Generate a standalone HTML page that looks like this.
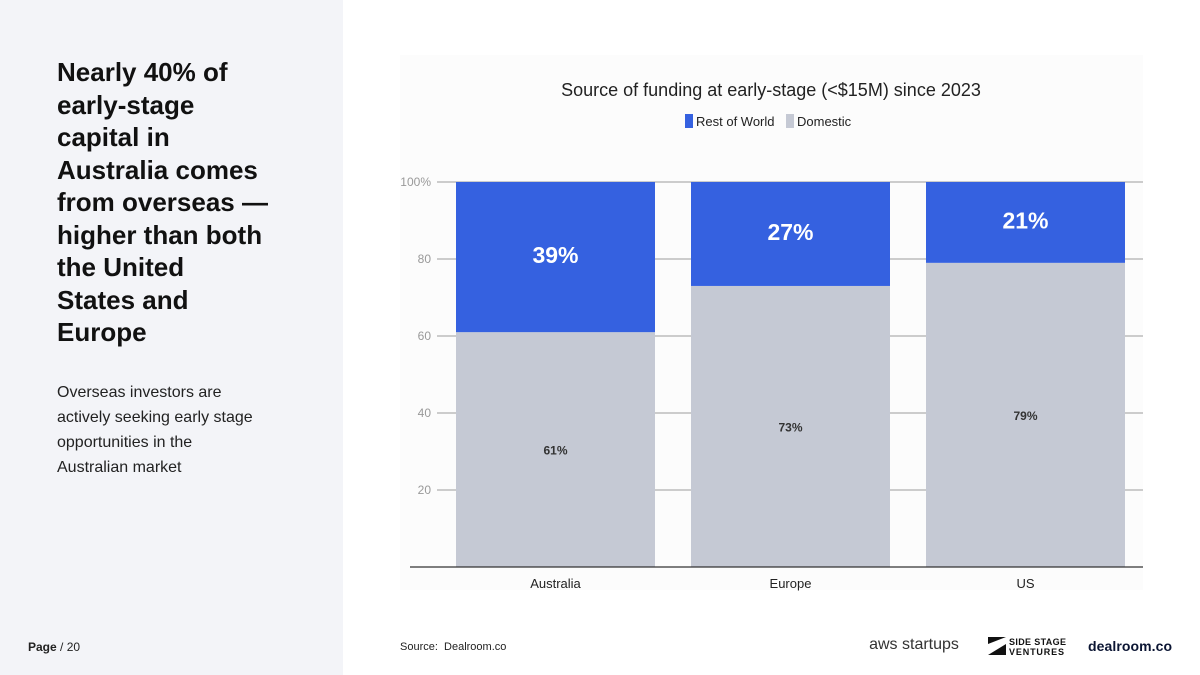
<!DOCTYPE html>
<html><head><meta charset="utf-8"><style>
body{margin:0;width:1200px;height:675px;background:#fff;font-family:"Liberation Sans",sans-serif;position:relative;overflow:hidden}
.left{position:absolute;left:0;top:0;width:343px;height:675px;background:#f3f4f8}
h1{position:absolute;left:57px;top:56px;margin:0;font-size:26px;line-height:32.5px;font-weight:bold;color:#111;white-space:nowrap}
.sub{position:absolute;left:57px;top:380px;font-size:16px;line-height:25px;color:#222;white-space:nowrap}
.page{position:absolute;left:28px;top:640px;font-size:12px;color:#222}
.src{position:absolute;left:400px;top:641px;font-size:11px;color:#222}
svg text{font-family:"Liberation Sans",sans-serif}
</style></head><body>
<div class="left"></div>
<h1>Nearly 40% of<br>early-stage<br>capital in<br>Australia comes<br>from overseas —<br>higher than both<br>the United<br>States and<br>Europe</h1>
<div class="sub">Overseas investors are<br>actively seeking early stage<br>opportunities in the<br>Australian market</div>
<div class="page"><b>Page</b> / 20</div>
<div class="src">Source:&nbsp; Dealroom.co</div>
<svg id="chart" width="1200" height="675" style="position:absolute;left:0;top:0">
<rect x="400" y="55" width="743" height="535" fill="#fcfcfc"/>
<text x="771" y="96" text-anchor="middle" font-size="18" fill="#222">Source of funding at early-stage (&lt;$15M) since 2023</text>
<rect x="685" y="114" width="8" height="14" fill="#3561e0"/>
<text x="696" y="126" font-size="13" fill="#222">Rest of World</text>
<rect x="786" y="114" width="8" height="14" fill="#c5c9d4"/>
<text x="797" y="126" font-size="13" fill="#222">Domestic</text>
<g id="grid"></g><g id="bars"></g>
<line x1="410" y1="567" x2="1143" y2="567" stroke="#333" stroke-width="1.2"/>
<text x="1088" y="651" font-size="14" font-weight="bold" fill="#0b1533" textLength="84">dealroom.co</text>
<text x="914" y="649" text-anchor="middle" font-size="16" fill="#333">aws startups</text>
<path d="M988 637h18l-18 7z M988 655h18v-11z" fill="#111"/>
<text x="1009" y="645" font-size="9" font-weight="bold" fill="#111" textLength="57">SIDE STAGE</text>
<text x="1009" y="655" font-size="9" font-weight="bold" fill="#111" textLength="55">VENTURES</text>
</svg>
<script>
const categories=["Australia","Europe","US"];
const domestic=[61,73,79];
const restOfWorld=[39,27,21];
const ticks=[20,40,60,80,100];
const NS="http://www.w3.org/2000/svg";
const y=v=>567-v*3.85;
const bx=i=>456+i*235, bw=199;
function mk(t,a,p){const e=document.createElementNS(NS,t);for(const k in a)e.setAttribute(k,a[k]);p.appendChild(e);return e;}
const g=document.getElementById('grid'),b=document.getElementById('bars');
ticks.forEach(t=>{
 const l=mk('line',{x1:437,x2:1143,y1:y(t),y2:y(t),stroke:'#bbb','stroke-width':1.5},g);
 
 
 const tx=mk('text',{x:431,y:y(t)+4,'text-anchor':'end','font-size':12,fill:'#999'},g);
 tx.textContent=t===100?'100%':t;
 
 
});
categories.forEach((c,i)=>{
 const d=mk('rect',{x:bx(i),y:y(domestic[i]),width:bw,height:y(0)-y(domestic[i]),fill:'#c5c9d4'},b);
 
 
 const top=domestic[i]+restOfWorld[i];
 const r=mk('rect',{x:bx(i),y:y(top),width:bw,height:y(domestic[i])-y(top),fill:'#3561e0'},b);
 
 
 const t1=mk('text',{x:bx(i)+bw/2,y:(y(top)+y(domestic[i]))/2+6,'text-anchor':'middle','font-size':23,'font-weight':'bold',fill:'#fff'},b);
 t1.textContent=restOfWorld[i]+'%';
 
 
 const t2=mk('text',{x:bx(i)+bw/2,y:(y(domestic[i])+y(0))/2+5,'text-anchor':'middle','font-size':12,'font-weight':'bold',fill:'#333'},b);
 t2.textContent=domestic[i]+'%';
 
 
 const cl=mk('text',{x:bx(i)+bw/2,y:588,'text-anchor':'middle','font-size':13,fill:'#222'},b);
 cl.textContent=c;
 
 
});
</script>
</body></html>
